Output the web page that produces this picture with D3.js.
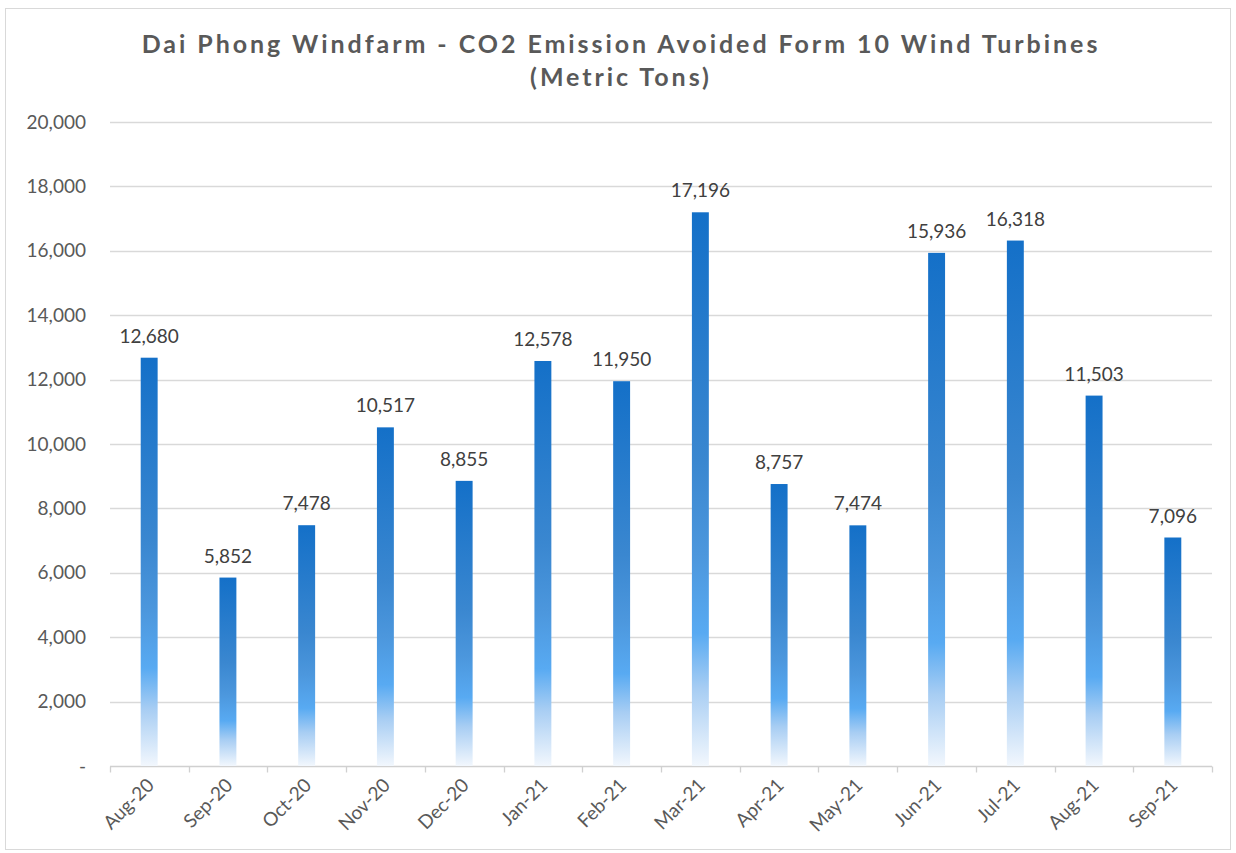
<!DOCTYPE html>
<html>
<head>
<meta charset="utf-8">
<script src="https://cdn.jsdelivr.net/npm/d3@7"></script>
<style>
  body { margin: 0; background: #fff; }
  text { font-family: 'Lato', 'DejaVu Sans', sans-serif; }
</style>
</head>
<body>
<div id="app"></div>
<script>
const months = ['Aug-20', 'Sep-20', 'Oct-20', 'Nov-20', 'Dec-20', 'Jan-21', 'Feb-21', 'Mar-21', 'Apr-21', 'May-21', 'Jun-21', 'Jul-21', 'Aug-21', 'Sep-21']
const co2Avoided = [12680, 5852, 7478, 10517, 8855, 12578, 11950, 17196, 8757, 7474, 15936, 16318, 11503, 7096]
const yTicks = [0, 2000, 4000, 6000, 8000, 10000, 12000, 14000, 16000, 18000, 20000]
const titleLines = ['Dai Phong Windfarm - CO2 Emission Avoided Form 10 Wind Turbines', '(Metric Tons)']

const w = 1236, h = 853
const paddingLeft = 110, paddingRight = 24, paddingTop = 122, paddingBottom = 87

const svg = d3.select('#app').append('svg')
              .attr('width', w)
              .attr('height', h)

// chart frame
svg.append('rect')
   .attr('x', 5.5).attr('y', 8.5)
   .attr('width', 1225).attr('height', 841)
   .attr('fill', '#fff')
   .attr('stroke', '#d9d9d9')

// bar gradient
const grad = svg.append('defs').append('linearGradient')
                .attr('id', 'barGrad')
                .attr('x1', 0).attr('y1', 0).attr('x2', 0).attr('y2', 1)
const stops = [[0, '#1470c8'], [0.45, '#3a87d0'], [0.62, '#4c97dd'], [0.76, '#58aaf2'], [0.86, '#a7cdf3'], [1, '#f2f7fd']]
stops.forEach(s => grad.append('stop').attr('offset', s[0]).attr('stop-color', s[1]))

const xScale = d3.scaleBand()
                 .domain(months)
                 .range([paddingLeft, w - paddingRight])
                 .paddingInner(0.785)
                 .paddingOuter(0.39)
const bandStep = (w - paddingRight - paddingLeft) / months.length

const yScale = d3.scaleLinear()
                 .domain([0, 20000])
                 .range([h - paddingBottom, paddingTop])

// gridlines
svg.append('g')
   .selectAll('line')
   .data(yTicks.slice(1))
   .enter()
   .append('line')
   .attr('x1', paddingLeft).attr('x2', w - paddingRight)
   .attr('y1', d => Math.round(yScale(d)) + 0.5)
   .attr('y2', d => Math.round(yScale(d)) + 0.5)
   .attr('stroke', '#d9d9d9')
   .attr('stroke-width', 1.3)

// y axis labels
const yAxis = d3.axisLeft(yScale)
                .tickValues(yTicks)
                .tickSize(0)
                .tickPadding(0)
                .tickFormat(d => d === 0 ? '-' : d3.format(',')(d))
const gy = svg.append('g')
              .attr('transform', 'translate(' + (paddingLeft - 24) + ',0)')
              .call(yAxis)
gy.select('.domain').remove()
gy.selectAll('text')
  .attr('fill', '#595959')
  .style('font-size', '19px')

// x axis
const xBase = Math.round(yScale(0)) + 0.5
svg.append('line')
   .attr('x1', paddingLeft).attr('x2', w - paddingRight)
   .attr('y1', xBase).attr('y2', xBase)
   .attr('stroke', '#d0d0d0')
   .attr('stroke-width', 1.3)
svg.append('g')
   .selectAll('line')
   .data(d3.range(months.length + 1))
   .enter()
   .append('line')
   .attr('x1', i => Math.round(paddingLeft + i * bandStep) + 0.5)
   .attr('x2', i => Math.round(paddingLeft + i * bandStep) + 0.5)
   .attr('y1', xBase).attr('y2', xBase + 6)
   .attr('stroke', '#d0d0d0')
   .attr('stroke-width', 1.3)

svg.append('g')
   .selectAll('text')
   .data(months)
   .enter()
   .append('text')
   .attr('text-anchor', 'end')
   .attr('transform', d => 'translate(' + (xScale(d) + xScale.bandwidth() / 2 + 6) + ',' + (xBase + 20) + ') rotate(-45)')
   .attr('fill', '#595959')
   .style('font-size', '19px')
   .text(d => d)

// bars
svg.append('g')
   .selectAll('rect')
   .data(co2Avoided)
   .enter()
   .append('rect')
   .attr('x', (d, i) => xScale(months[i]))
   .attr('y', d => yScale(d))
   .attr('width', xScale.bandwidth())
   .attr('height', d => yScale(0) - yScale(d))
   .attr('fill', 'url(#barGrad)')

// data labels
svg.append('g')
   .selectAll('text')
   .data(co2Avoided)
   .enter()
   .append('text')
   .attr('x', (d, i) => xScale(months[i]) + xScale.bandwidth() / 2)
   .attr('y', d => yScale(d) - 15)
   .attr('text-anchor', 'middle')
   .attr('fill', '#404040')
   .style('font-size', '19px')
   .text(d => d3.format(',')(d))

// title
svg.append('g')
   .selectAll('text')
   .data(titleLines)
   .enter()
   .append('text')
   .attr('x', 621)
   .attr('y', (d, i) => 53 + i * 33)
   .attr('text-anchor', 'middle')
   .attr('fill', '#595959')
   .style('font-size', '25px')
   .style('font-weight', 'bold')
   .style('letter-spacing', '2.95px')
   .text(d => d)
</script>
</body>
</html>
